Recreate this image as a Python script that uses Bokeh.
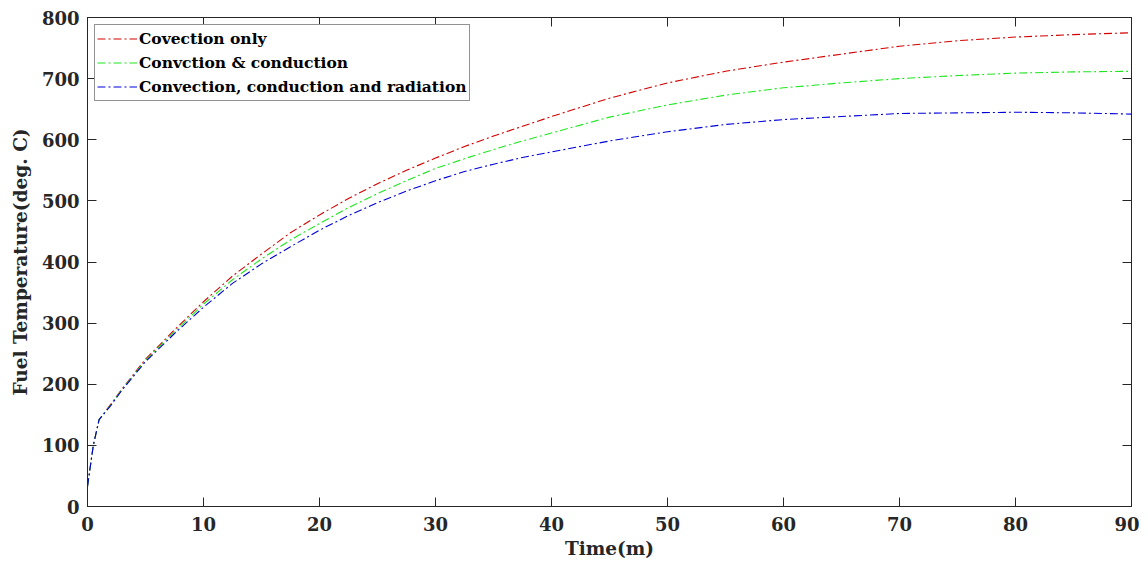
from bokeh.plotting import figure
from bokeh.models import LinearAxis, Range1d, FixedTicker, Legend, LegendItem
from bokeh.embed import file_html
from bokeh.resources import INLINE

time_m = [0, 0.5, 1, 2, 3, 5, 7.5, 10, 12.5, 15, 17.5, 20, 22.5, 25, 27.5, 30, 32.5, 35, 37.5,
          40, 45, 50, 55, 60, 65, 70, 75, 80, 85, 90]
convection_only = [33, 100, 142, 167, 193, 241, 289, 335, 377, 413, 448, 477, 504, 528, 550, 570, 589, 606, 622,
                   638, 668, 693, 712, 727, 740, 753, 762, 768, 772, 775]
convection_conduction = [33, 100, 142, 166, 192, 239, 286, 331, 371, 405, 436, 463, 489, 512, 533, 553, 569, 584, 598,
                         611, 637, 657, 673, 685, 693, 700, 705, 709, 711, 712]
convection_conduction_radiation = [33, 100, 142, 165, 191, 237, 283, 326, 365, 397, 425, 452, 476, 497, 516, 533, 548, 560, 571,
                                   580, 598, 613, 625, 633, 638, 643, 644, 645, 644, 642]

series_labels = ["Covection only", "Convction & conduction", "Convection, conduction and radiation"]
series_colors = ["#d40000", "#1fe61f", "#0000d8"]
x_ticks = [0, 10, 20, 30, 40, 50, 60, 70, 80, 90]
y_ticks = [0, 100, 200, 300, 400, 500, 600, 700, 800]

FONT = "DejaVu Serif"
AX = "#262626"

p = figure(frame_width=1044, frame_height=489, x_range=Range1d(0, 90), y_range=Range1d(0, 800),
           output_backend="svg", toolbar_location=None,
           min_border_left=87, min_border_top=17, min_border_right=8, min_border_bottom=40)
p.grid.visible = False
p.outline_line_color = AX
p.outline_line_width = 1
p.background_fill_color = "white"
p.border_fill_color = "white"

for ax, ticks in ((p.xaxis[0], x_ticks), (p.yaxis[0], y_ticks)):
    ax.ticker = FixedTicker(ticks=ticks)
    ax.major_tick_in = 9
    ax.major_tick_out = 0
    ax.minor_tick_line_color = None
    ax.axis_line_color = AX
    ax.major_tick_line_color = AX
    ax.major_label_text_font = FONT
    ax.major_label_text_font_style = "bold"
    ax.major_label_text_font_size = "18px"
    ax.major_label_text_color = AX
    ax.axis_label_text_font = FONT
    ax.axis_label_text_font_style = "bold"
    ax.axis_label_text_font_size = "18.5px"
    ax.axis_label_text_color = AX

p.xaxis[0].axis_label = "Time(m)"
p.yaxis[0].axis_label = "Fuel Temperature(deg. C)"
p.xaxis[0].major_label_standoff = 10
p.xaxis[0].axis_label_standoff = 4
p.yaxis[0].major_label_standoff = 8
p.yaxis[0].axis_label_standoff = 8

top = LinearAxis(ticker=FixedTicker(ticks=x_ticks), major_tick_in=9, major_tick_out=0,
                 minor_tick_line_color=None, major_label_text_font_size="0px",
                 major_label_text_color=None,
                 major_label_standoff=0, axis_line_color=AX, major_tick_line_color=AX)
right = LinearAxis(ticker=FixedTicker(ticks=y_ticks), major_tick_in=9, major_tick_out=0,
                   minor_tick_line_color=None, major_label_text_font_size="0px",
                   major_label_text_color=None,
                   major_label_standoff=0, axis_line_color=AX, major_tick_line_color=AX)
p.add_layout(top, "above")
p.add_layout(right, "right")

items = []
for ys, lab, col in zip([convection_only, convection_conduction, convection_conduction_radiation],
                        series_labels, series_colors):
    r = p.line(time_m, ys, line_color=col, line_width=1.1, line_dash="8 3 2 3")
    items.append(LegendItem(label=lab, renderers=[r]))

legend = Legend(items=items, location="top_left", margin=7, padding=2, spacing=1,
                label_height=23, glyph_height=23, glyph_width=40, label_standoff=2,
                label_text_font=FONT, label_text_font_style="bold", label_text_font_size="15.5px",
                label_text_color="black", border_line_color=AX, border_line_width=1,
                background_fill_color="white", background_fill_alpha=1)
p.add_layout(legend, "center")

open("out.html", "w").write(file_html(p, INLINE))
